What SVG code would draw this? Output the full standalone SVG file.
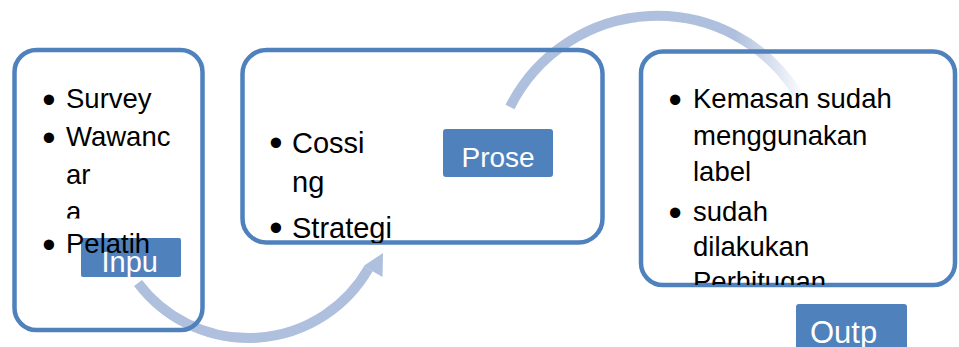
<svg xmlns="http://www.w3.org/2000/svg" width="959" height="347" viewBox="0 0 959 347">
  <style>
    .box { fill: none; stroke: #4f81bd; stroke-width: 4.5; }
    .lbl { fill: #4f81bd; }
    .lbltxt { fill: #ffffff; font-family: "Liberation Sans", Arial, sans-serif; }
    .txt { fill: #000000; font-family: "Liberation Sans", Arial, sans-serif; }
    .bul { font-size: 38px; }
    .arc { fill: none; stroke-width: 10; stroke-linecap: butt; }
  </style>
  <defs>
    <linearGradient id="fade" gradientUnits="userSpaceOnUse" x1="735" y1="0" x2="806" y2="0">
      <stop offset="0" stop-color="#afc0de" stop-opacity="1"/>
      <stop offset="1" stop-color="#afc0de" stop-opacity="0"/>
    </linearGradient>
    <clipPath id="clipA"><rect x="0" y="0" width="240" height="218.5"/></clipPath>
    <clipPath id="clipB"><rect x="240" y="0" width="380" height="243"/></clipPath>
    <clipPath id="clipC"><rect x="630" y="0" width="329" height="285"/></clipPath>
  </defs>
  <rect x="0" y="0" width="959" height="347" fill="#ffffff"/>

  <g id="connectors">
    <path class="arc" stroke="#afc0de" d="M138,282.9 A138.4,138.4 0 0 0 368.4,268.8"/>
    <polygon fill="#afc0de" points="363.5,266 383,253 382.5,277"/>
    <path class="arc" stroke="url(#fade)" d="M510,107 A164.8,164.8 0 0 1 797,93"/>
  </g>

  <g id="node-input">
    <rect class="box" x="14.5" y="50" width="188" height="280" rx="22"/>
    <rect class="lbl" x="81" y="238" width="100" height="39" rx="2"/>
    <text class="txt" font-size="27.5">
      <tspan class="bul" x="42.3" y="113">•</tspan><tspan x="66" y="108">Survey</tspan>
      <tspan class="bul" x="42.3" y="151">•</tspan><tspan x="66" y="146">Wawanc</tspan>
      <tspan x="66" y="183.5">ar</tspan>
    </text>
    <text class="txt" font-size="27.5" x="66" y="221" clip-path="url(#clipA)">a</text>
    <text class="txt" font-size="27.5"><tspan class="bul" x="42.3" y="258">•</tspan><tspan x="66" y="253">Pelatih</tspan></text>
    <text class="lbltxt" font-size="29" x="101.5" y="271.5">Inpu</text>
  </g>

  <g id="node-process">
    <rect class="box" x="242.5" y="50" width="360" height="192.5" rx="24"/>
    <rect class="lbl" x="443" y="129" width="110" height="48" rx="3"/>
    <text class="lbltxt" font-size="28" x="461.5" y="166.5">Prose</text>
    <g clip-path="url(#clipB)">
      <text class="txt" font-size="29">
        <tspan class="bul" x="269.3" y="155.5">•</tspan><tspan x="292" y="153">Cossi</tspan>
        <tspan x="292" y="191.5">ng</tspan>
        <tspan class="bul" x="269.3" y="240.5">•</tspan><tspan x="292" y="238">Strategi</tspan>
      </text>
    </g>
  </g>

  <g id="node-output">
    <rect class="box" x="641" y="51.5" width="314" height="233.5" rx="22"/>
    <g clip-path="url(#clipC)">
      <text class="txt" font-size="27.5">
        <tspan class="bul" x="668.5" y="113">•</tspan><tspan x="693" y="108">Kemasan sudah</tspan>
        <tspan x="693" y="145">menggunakan</tspan>
        <tspan x="693" y="181">label</tspan>
        <tspan class="bul" x="668.5" y="226">•</tspan><tspan x="693" y="221">sudah</tspan>
        <tspan x="693" y="255.5">dilakukan</tspan>
        <tspan x="693" y="291">Perhitugan</tspan>
      </text>
    </g>
    <rect class="lbl" x="796" y="304" width="111" height="60" rx="3"/>
    <text class="lbltxt" font-size="31" x="810" y="343">Outp</text>
  </g>
</svg>
